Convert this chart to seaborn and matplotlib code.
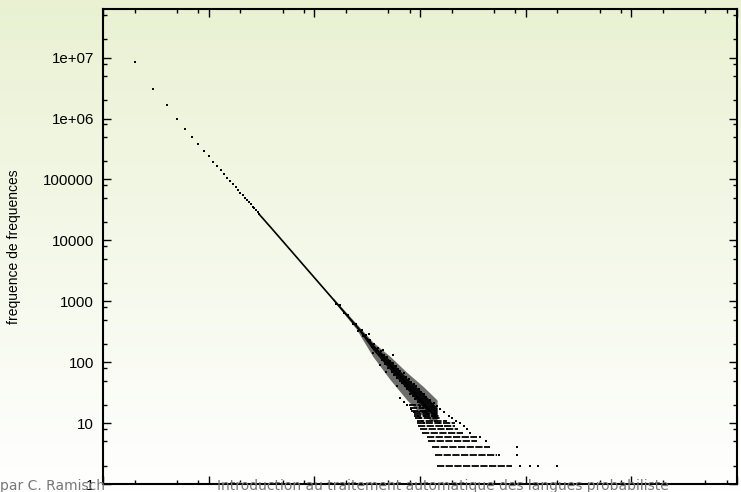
import numpy as np
import pandas as pd
import matplotlib
matplotlib.use("Agg")
import matplotlib.pyplot as plt
import seaborn as sns
from matplotlib.ticker import LogLocator, FixedLocator, NullFormatter

# ---------------- data ----------------
head_freq = list(range(2, 31))
head_count = [8.6e6, 3.1e6, 1.64e6, 1.0e6, 6.8e5, 5.0e5, 3.83e5, 2.97e5, 2.4e5,
              1.96e5, 1.66e5, 1.41e5, 1.23e5, 1.07e5, 9.4e4, 8.3e4, 7.4e4, 6.6e4,
              6.0e4, 5.5e4, 5.0e4, 4.6e4, 4.2e4, 3.9e4, 3.6e4, 3.35e4, 3.1e4,
              2.9e4, 2.7e4]

ridge_freq = [30, 40, 50, 70, 100, 150, 200, 300, 400, 500, 700, 1000, 1400]
ridge_count = [27000, 15300, 9800, 5000, 2450, 1090, 610, 272, 153, 98, 50, 24, 12.5]

# outer and inner edges of the dense cloud around the ridge
env_freq = [150, 250, 357, 520, 751, 1070, 1450]
env_hi = [1140, 430, 215, 125, 68, 40, 24]
env_lo = [1040, 350, 125, 52, 24, 13, 10]
core_hi = [1110, 405, 195, 108, 55, 31, 18]
core_lo = [1070, 375, 160, 75, 36, 18, 12]

cloud_freq = [160, 175, 190, 210, 230, 250, 260, 280, 290, 310, 320, 340, 350, 370,
              380, 400, 410, 430, 440, 460, 470, 490, 500, 520, 540, 550, 570, 590,
              600, 620, 640, 650, 680, 700, 720, 740, 760, 780, 800, 820, 850, 870,
              900, 920, 950, 980, 1000, 1030, 1060, 1100, 1120, 1150, 1200, 1250,
              1300, 1350, 1400, 1450, 1500, 1550, 1600, 1700, 1800, 1900, 2000,
              2200, 2400, 2600, 2800, 650, 700, 760, 820, 880, 950, 1000, 1050,
              1100, 600, 560, 480, 450, 420, 360, 330]
cloud_count = [900, 860, 640, 600, 430, 420, 330, 340, 270, 280, 220, 230, 180, 200,
               150, 170, 130, 150, 110, 130, 95, 120, 80, 105, 70, 98, 62, 85,
               55, 78, 50, 72, 45, 66, 40, 58, 36, 52, 30, 48, 28, 44,
               25, 40, 22, 36, 19, 33, 18, 30, 16, 27, 14, 24,
               13, 21, 11, 19, 10, 17, 9, 15, 8, 13, 12,
               11, 10, 9, 8, 26, 22, 20, 17, 15, 13, 12, 11,
               10, 40, 130, 70, 160, 90, 140, 290]

band_count = [2, 3, 4, 5, 6, 7, 8, 9, 10, 11, 12, 13, 14, 15, 16, 18, 20]
band_lo = [1450, 1380, 1300, 1200, 1170, 1040, 1000, 960, 940, 935, 900, 880, 870,
           850, 830, 800, 780]
band_hi = [7500, 5300, 4600, 3450, 3450, 2560, 2300, 2140, 2140, 1800, 1550, 1500,
           1450, 1300, 1200, 1100, 1000]

stray_freq = [8900, 11000, 13000, 20000, 8300, 8200, 4200, 3700, 2960, 5600]
stray_count = [2, 2, 2, 2, 3, 4, 5, 6, 7, 3]

ytick_values = [1, 10, 100, 1000, 10000, 100000, 1e6, 1e7]
ytick_labels = ["1", "10", "100", "1000", "10000", "100000", "1e+06", "1e+07"]
ylabel = "frequence de frequences"
footer_left = "par C. Ramisch"
footer_mid = "Introduction au traitement automatique des langues probabiliste"

# ---------------- figure ----------------
sns.set_theme(style="ticks")
plt.rcParams["font.family"] = ["Liberation Sans", "DejaVu Sans"]

W, H = 741, 492
fig = plt.figure(figsize=(W / 100, H / 100), dpi=100)

# slide background gradient (light green at top to white at bottom)
bg = fig.add_axes([0, 0, 1, 1], zorder=-10)
top = np.array([0.915, 0.947, 0.826])
bot = np.array([1.0, 1.0, 1.0])
t = np.linspace(0, 1, 256)[:, None]
grad = top[None, :] * (1 - t) + bot[None, :] * t
bg.imshow(grad[:, None, :], aspect="auto", extent=[0, 1, 0, 1])
bg.set_axis_off()

ax = fig.add_axes([103 / W, 1 - 484 / H, (737 - 103) / W, (484 - 9) / H])
ax.set_facecolor("none")
ax.set_xscale("log")
ax.set_yscale("log")

head_df = pd.DataFrame({"freq": head_freq, "count": head_count})
ridge_df = pd.DataFrame({"freq": ridge_freq, "count": ridge_count})
cloud_df = pd.DataFrame({"freq": cloud_freq, "count": cloud_count})
stray_df = pd.DataFrame({"freq": stray_freq, "count": stray_count})

ax.fill_between(env_freq, env_lo, env_hi, color="#151515", alpha=0.62, lw=0)
ax.fill_between(env_freq, core_lo, core_hi, color="black", alpha=0.92, lw=0)
sns.lineplot(data=ridge_df, x="freq", y="count", color="black", lw=1.2,
             estimator=None, sort=False, ax=ax)
sns.scatterplot(data=head_df, x="freq", y="count", color="black", marker="s",
                s=2.5, linewidth=0, ax=ax)
sns.scatterplot(data=cloud_df, x="freq", y="count", color="black", marker="s",
                s=2.0, linewidth=0, ax=ax)
sns.scatterplot(data=stray_df, x="freq", y="count", color="black", marker="s",
                s=2.0, linewidth=0, ax=ax)
ax.hlines(band_count, band_lo, band_hi, colors="black", lw=1.3,
          linestyles=(0, (4, 0.8)))

ax.set_xlim(1, 1e6)
ax.set_ylim(1, 6.3e7)

ax.xaxis.set_major_locator(LogLocator(base=10, numticks=20))
ax.xaxis.set_minor_locator(LogLocator(base=10, subs=(2, 5, 8), numticks=20))
ax.xaxis.set_minor_formatter(NullFormatter())
ax.yaxis.set_major_locator(FixedLocator(ytick_values))
ax.set_yticklabels(ytick_labels)
ax.yaxis.set_minor_locator(LogLocator(base=10, subs=(2, 5, 8), numticks=20))
ax.yaxis.set_minor_formatter(NullFormatter())

ax.tick_params(which="both", direction="in", top=True, right=True,
               colors="black", width=1.0)
ax.tick_params(which="major", length=6)
ax.tick_params(which="minor", length=3)
ax.tick_params(axis="x", labelbottom=False)
ax.tick_params(axis="y", labelsize=10.8, pad=6.5)
for sp in ax.spines.values():
    sp.set_color("black")
    sp.set_linewidth(1.5)

ax.set_xlabel("")
ax.set_ylabel("")
fig.text(14 / W, 1 - 247 / H, ylabel, rotation=90, ha="center", va="center",
         fontsize=10, color="black")

fig.text(0 / W, 2 / H, footer_left, ha="left", va="baseline", fontsize=10,
         color="#777777", family=["DejaVu Sans"])
fig.text(217 / W, 2 / H, footer_mid, ha="left", va="baseline", fontsize=10,
         color="#777777", family=["DejaVu Sans"])

fig.savefig("out.png", dpi=100)
